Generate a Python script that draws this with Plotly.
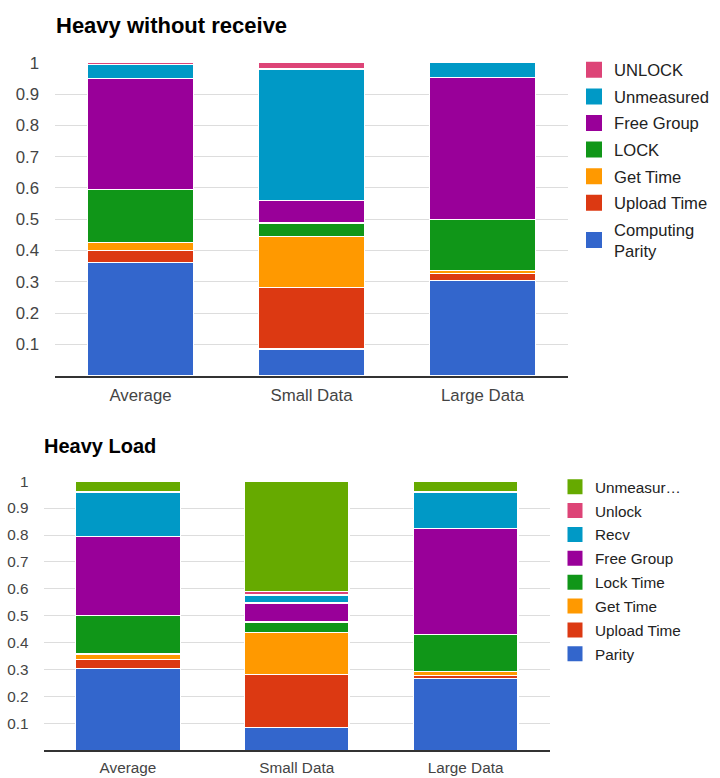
import plotly.graph_objects as go

categories = ["Average", "Small Data", "Large Data"]

# Top chart: "Heavy without receive" (stack order bottom -> top)
top_series = ["Computing<br>Parity", "Upload Time", "Get Time", "LOCK", "Free Group", "Unmeasured", "UNLOCK"]
top_parity = [0.362, 0.086, 0.305]
top_upload = [0.039, 0.197, 0.021]
top_gettime = [0.026, 0.163, 0.010]
top_lock = [0.168, 0.042, 0.164]
top_freegroup = [0.355, 0.072, 0.452]
top_unmeasured = [0.044, 0.420, 0.048]
top_unlock = [0.006, 0.020, 0.000]
top_values = [top_parity, top_upload, top_gettime, top_lock, top_freegroup, top_unmeasured, top_unlock]
top_colors = ["#3366cc", "#dc3912", "#ff9900", "#109618", "#990099", "#0099c6", "#dd4477"]

# Bottom chart: "Heavy Load"
bot_series = ["Parity", "Upload Time", "Get Time", "Lock Time", "Free Group", "Recv", "Unlock", "Unmeasur…"]
bot_parity = [0.303, 0.086, 0.266]
bot_upload = [0.034, 0.195, 0.012]
bot_gettime = [0.021, 0.157, 0.015]
bot_lock = [0.143, 0.039, 0.137]
bot_freegroup = [0.294, 0.070, 0.393]
bot_recv = [0.165, 0.030, 0.137]
bot_unlock = [0.003, 0.012, 0.000]
bot_unmeasured = [0.037, 0.411, 0.040]
bot_values = [bot_parity, bot_upload, bot_gettime, bot_lock, bot_freegroup, bot_recv, bot_unlock, bot_unmeasured]
bot_colors = ["#3366cc", "#dc3912", "#ff9900", "#109618", "#990099", "#0099c6", "#dd4477", "#66aa00"]

y_ticks = [0.1, 0.2, 0.3, 0.4, 0.5, 0.6, 0.7, 0.8, 0.9, 1.0]
y_ticktext = ["0.1", "0.2", "0.3", "0.4", "0.5", "0.6", "0.7", "0.8", "0.9", "1"]

FONT = "Liberation Sans, Arial, sans-serif"
W, H = 720, 778

fig = go.Figure()

def add_chart(series, values, colors, xa, ya, legend, prefix, symsize):
    for name, vals, col in zip(series, values, colors):
        fig.add_trace(go.Bar(
            x=categories, y=vals, name=name, xaxis=xa, yaxis=ya,
            marker=dict(color=col, line=dict(color="white", width=1.2)),
            width=0.62, showlegend=False, hoverinfo="skip",
        ))
    # legend entries listed top-of-stack first
    for name, col in reversed(list(zip(series, colors))):
        fig.add_trace(go.Scatter(
            x=[None], y=[None], mode="markers", name=name, xaxis=xa, yaxis=ya,
            marker=dict(symbol="square", size=symsize, color=col),
            legend=legend, legendgroup=prefix + name, showlegend=True,
        ))

add_chart(top_series, top_values, top_colors, "x", "y", "legend", "t_", 16)
add_chart(bot_series, bot_values, bot_colors, "x2", "y2", "legend2", "b_", 15)

def px_x(p):
    return p / W

def px_y(p):
    return 1 - p / H

fig.update_layout(
    width=W, height=H,
    margin=dict(l=0, r=0, t=0, b=0),
    paper_bgcolor="white", plot_bgcolor="white",
    barmode="stack",
    font=dict(family=FONT),
    xaxis=dict(
        domain=[px_x(55), px_x(568)], anchor="y",
        type="category", range=[-0.5, 2.5],
        showgrid=False, showline=True, linecolor="#333333", linewidth=1.5,
        ticks="", tickfont=dict(family=FONT, size=16.8, color="#444444"),
        ticklabelstandoff=3,
    ),
    yaxis=dict(
        domain=[px_y(371.7), px_y(54.3)], anchor="x",
        range=[0, 1.003], tickvals=y_ticks, ticktext=y_ticktext,
        showgrid=True, gridcolor="#dddddd", gridwidth=1,
        zeroline=False, showline=False, ticks="",
        tickfont=dict(family=FONT, size=16.8, color="#444444"),
        ticklabelstandoff=15,
    ),
    xaxis2=dict(
        domain=[px_x(43.5), px_x(550)], anchor="y2",
        type="category", range=[-0.5, 2.5],
        showgrid=False, showline=True, linecolor="#333333", linewidth=1.5,
        ticks="", tickfont=dict(family=FONT, size=15.3, color="#444444"),
        ticklabelstandoff=3,
    ),
    yaxis2=dict(
        domain=[px_y(750), px_y(477.3)], anchor="x2",
        range=[0, 1.003], tickvals=y_ticks, ticktext=y_ticktext,
        showgrid=True, gridcolor="#dddddd", gridwidth=1,
        zeroline=False, showline=False, ticks="",
        tickfont=dict(family=FONT, size=15.3, color="#444444"),
        ticklabelstandoff=14,
    ),
    legend=dict(
        x=px_x(574), xanchor="left", y=px_y(45), yanchor="top",
        traceorder="grouped", tracegroupgap=2,
        font=dict(family=FONT, size=16.6, color="#222222"),
        bgcolor="rgba(0,0,0,0)", borderwidth=0,
    ),
    legend2=dict(
        x=px_x(555), xanchor="left", y=px_y(467), yanchor="top",
        traceorder="grouped", tracegroupgap=1,
        font=dict(family=FONT, size=15.3, color="#222222"),
        bgcolor="rgba(0,0,0,0)", borderwidth=0,
    ),
    annotations=[
        dict(text="<b>Heavy without receive</b>", xref="paper", yref="paper",
             x=px_x(54), y=px_y(17.5), xanchor="left", yanchor="middle",
             showarrow=False, font=dict(family=FONT, size=22, color="#000000")),
        dict(text="<b>Heavy Load</b>", xref="paper", yref="paper",
             x=px_x(42), y=px_y(442.7), xanchor="left", yanchor="middle",
             showarrow=False, font=dict(family=FONT, size=20, color="#000000")),
    ],
)

fig.write_html("out.html")
